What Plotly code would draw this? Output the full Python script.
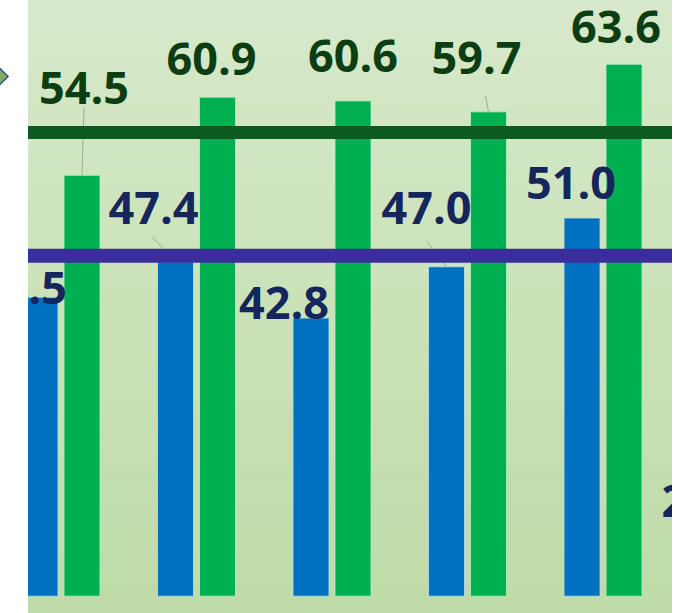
import plotly.graph_objects as go

# ---------------- data ----------------
categories = ["1", "2", "3", "4", "5", "6"]
blue_values = [44.5, 47.4, 42.8, 47.0, 51.0, 25.5]
green_values = [54.5, 60.9, 60.6, 59.7, 63.6, None]
target_green = 58.0
target_blue = 47.9
BASE = 20.0

# ---------------- style / layout ----------------
W, H = 679, 613
ML, MR, MT, MB = 28, 7, 0, 0
X_RANGE = [-0.2435, 4.509]
Y_RANGE = [18.62, 68.87]
PW, PH = W - ML - MR, H - MT - MB
PX_X = PW / (X_RANGE[1] - X_RANGE[0])
PX_Y = PH / (Y_RANGE[1] - Y_RANGE[0])

BARGAP = 0.38
BARGROUPGAP = 0.143
SLOT = (1 - BARGAP) / 2
OFF_BLUE, OFF_GREEN = -SLOT / 2, SLOT / 2

BLUE = "#0070C0"
GREEN = "#00B050"
BLUE_TXT = "#14265C"
GREEN_TXT = "#0D3D12"
LINE_GREEN = "#0C5A22"
LINE_BLUE = "#3A2E9C"
FONT = "Open Sans"
FSIZE = 45
TEXT_DY = 5  # baseline correction (px, downwards)

# label offsets (pixels) of text centre from the bar top centre
blue_label_off = [(-18, -10), (-22, -54), (-27, -15), (-20, -59), (-11, -35), (-11, -28)]
green_label_off = [(2, -88), (-6, -38), (0, -45), (-12, -54), (-8, -38), (0, 0)]
# leader lines: (series, index, start offset px)
leaders = [("g", 0, (2, -68)), ("b", 1, (-23, -25)), ("b", 3, (-20, -26)), ("g", 3, (-3, -16))]

xs = list(range(len(categories)))

fig = go.Figure()
fig.add_trace(go.Bar(
    x=xs, y=[v - BASE for v in blue_values], base=BASE,
    marker=dict(color=BLUE, line=dict(color="rgba(190,225,235,0.8)", width=1)),
    name="blue"))
fig.add_trace(go.Bar(
    x=xs, y=[(v - BASE) if v is not None else None for v in green_values], base=BASE,
    marker=dict(color=GREEN, line=dict(color="rgba(190,235,200,0.8)", width=1)),
    name="green"))


def label_trace(values, offs, off_cat, color):
    lx, ly, lt = [], [], []
    for i, v in enumerate(values):
        if v is None:
            continue
        dx, dy = offs[i]
        dy += TEXT_DY
        lx.append(i + off_cat + dx / PX_X)
        ly.append(v - dy / PX_Y)
        lt.append(f"{v:.1f}")
    return go.Scatter(x=lx, y=ly, text=lt, mode="text", textposition="middle center",
                      textfont=dict(family=FONT, size=FSIZE, color=color, weight="bold"),
                      cliponaxis=True, hoverinfo="skip")


fig.add_trace(label_trace(blue_values, blue_label_off, OFF_BLUE, BLUE_TXT))
fig.add_trace(label_trace(green_values, green_label_off, OFF_GREEN, GREEN_TXT))

shapes = []
# background gradient
N = 40
top = (0xD7, 0xE9, 0xCA)
bot = (0xBE, 0xDB, 0xA7)
for k in range(N):
    t = (k + 0.5) / N
    c = tuple(round(bot[j] + (top[j] - bot[j]) * t) for j in range(3))
    shapes.append(dict(type="rect", xref="paper", yref="paper", x0=0, x1=1,
                       y0=k / N, y1=(k + 1) / N, fillcolor="rgb(%d,%d,%d)" % c,
                       line=dict(width=0), layer="below"))
# leader lines
for ser, i, (dx, dy) in leaders:
    v = green_values[i] if ser == "g" else blue_values[i]
    off = OFF_GREEN if ser == "g" else OFF_BLUE
    shapes.append(dict(type="line", xref="x", yref="y",
                       x0=i + off + dx / PX_X, y0=v - dy / PX_Y, x1=i + off, y1=v,
                       line=dict(color="rgba(110,130,110,0.55)", width=1), layer="below"))
# target lines
shapes.append(dict(type="line", xref="paper", yref="y", x0=0, x1=1, y0=target_green, y1=target_green,
                   line=dict(color=LINE_GREEN, width=13), layer="above"))
shapes.append(dict(type="line", xref="paper", yref="y", x0=0, x1=1, y0=target_blue, y1=target_blue,
                   line=dict(color=LINE_BLUE, width=14), layer="above"))
# small diamond decoration at top-left
cx, cy, r = -1, 76.5, 9
def px2paper(px, py):
    return (px - ML) / PW, 1 - (py - MT) / PH
pts = [px2paper(cx - r, cy), px2paper(cx, cy - r), px2paper(cx + r, cy), px2paper(cx, cy + r)]
path = "M " + " L ".join(f"{x:.5f},{y:.5f}" for x, y in pts) + " Z"
shapes.append(dict(type="path", xref="paper", yref="paper", path=path,
                   fillcolor="#7FAF5E", line=dict(color="#2E4F8F", width=1.5)))

fig.update_layout(
    width=W, height=H,
    margin=dict(l=ML, r=MR, t=MT, b=MB, pad=0),
    paper_bgcolor="white", plot_bgcolor="#C8E0B5",
    barmode="group", bargap=BARGAP, bargroupgap=BARGROUPGAP,
    showlegend=False,
    shapes=shapes,
    xaxis=dict(range=X_RANGE, visible=False, showgrid=False, zeroline=False,
               tickvals=xs, ticktext=categories),
    yaxis=dict(range=Y_RANGE, visible=False, showgrid=False, zeroline=False),
)

fig.write_html("out.html")
